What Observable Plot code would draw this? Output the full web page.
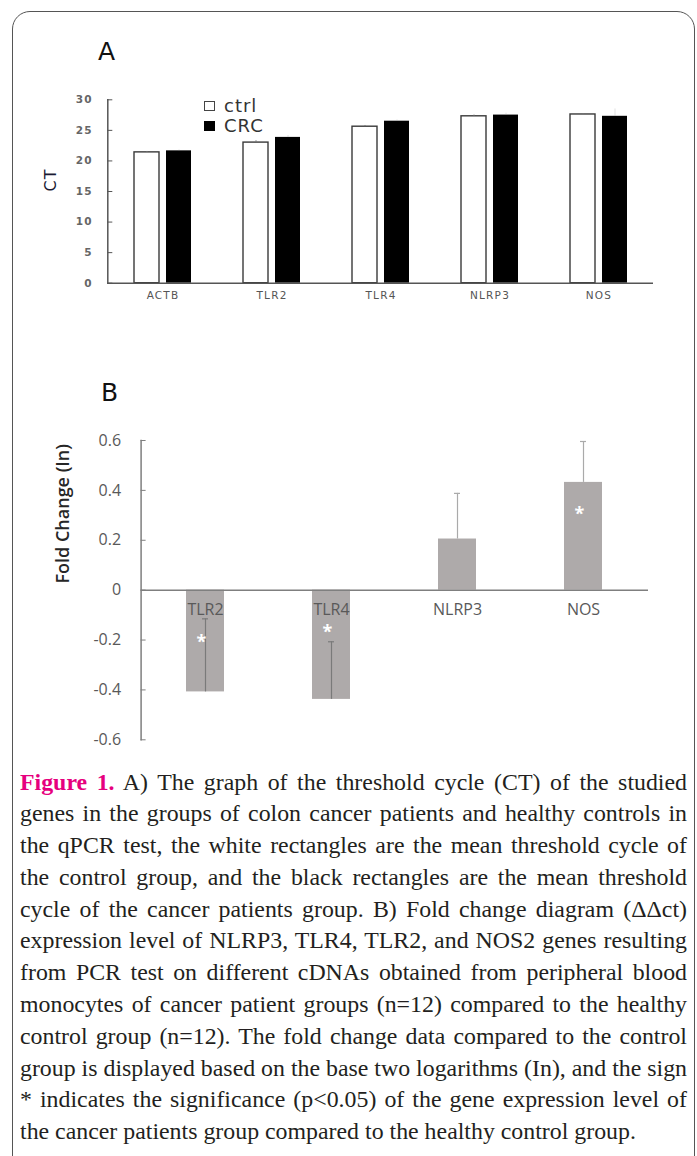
<!DOCTYPE html>
<html><head><meta charset="utf-8">
<script src="https://cdn.jsdelivr.net/npm/d3@7"></script>
<script src="https://cdn.jsdelivr.net/npm/@observablehq/plot@0.6"></script>
<style>
html,body{margin:0;padding:0;background:#fff;}
#page{position:relative;width:697px;height:1156px;overflow:hidden;background:#fff;}
#frame{position:absolute;left:12px;top:11px;width:683px;height:1200px;border:1.3px solid #555;border-radius:18px;box-sizing:border-box;}
.letter{position:absolute;font-family:"DejaVu Sans";font-size:25px;line-height:25px;color:#111;}
.chart{position:absolute;left:0;}
.leg-item{position:absolute;font-family:"DejaVu Sans";font-size:18px;line-height:20px;letter-spacing:1px;color:#333;white-space:nowrap;}
.leg-sw{position:absolute;width:11px;height:10px;box-sizing:border-box;}
#caption{position:absolute;left:20px;top:766.5px;transform-origin:0 0;font-family:"Liberation Serif";font-size:22.6px;line-height:31.8px;color:#231f20;}
.cline{white-space:nowrap;}
.cline.j{text-align:justify;text-align-last:justify;}
.fig{color:#e6007e;font-weight:bold;}
</style>
</head><body>
<div id="page">
  <div id="frame"></div>
  <div class="letter" style="left:98px;top:39px;">A</div>
  <div class="letter" style="left:101px;top:380px;">B</div>
  <div id="plotA" class="chart" style="top:0px;"></div>
  <div id="legend"></div>
  <div id="plotB" class="chart" style="top:340px;"></div>
  <div id="caption"></div>
</div>
<script>
// ---------- Panel A data ----------
const genesA = ["ACTB", "TLR2", "TLR4", "NLRP3", "NOS"];
const seriesA = ["ctrl", "CRC"];
const ctrlCT = [21.4, 23.0, 25.6, 27.3, 27.6];
const crcCT = [21.65, 23.85, 26.5, 27.5, 27.3];
const ctrlErr = [0.15, 0.3, 0.2, 0.2, 0.15];
const crcErr = [0.15, 0.3, 0.2, 0.3, 1.2];
const ctTicks = [0, 5, 10, 15, 20, 25, 30];

// ---------- Panel B data ----------
const genesB = ["TLR2", "TLR4", "NLRP3", "NOS"];
const foldChange = [-0.408, -0.438, 0.205, 0.432];
const foldErr = [0.293, 0.231, 0.183, 0.164];
const significant = [true, true, false, true];
const starY = [-0.195, -0.158, null, 0.318];
const fcTicks = [-0.6, -0.4, -0.2, 0, 0.2, 0.4, 0.6];

// ---------- Caption ----------
const figLabel = "Figure 1.";
const captionLines = [
  " A) The graph of the threshold cycle (CT) of the studied",
  "genes in the groups of colon cancer patients and healthy controls in",
  "the qPCR test, the white rectangles are the mean threshold cycle of",
  "the control group, and the black rectangles are the mean threshold",
  "cycle of the cancer patients group. B) Fold change diagram (\u0394\u0394ct)",
  "expression level of NLRP3, TLR4, TLR2, and NOS2 genes resulting",
  "from PCR test on different cDNAs obtained from peripheral blood",
  "monocytes of cancer patient groups (n=12) compared to the healthy",
  "control group (n=12). The fold change data compared to the control",
  "group is displayed based on the base two logarithms (In), and the sign",
  "* indicates the significance (p<0.05) of the gene expression level of",
  "the cancer patients group compared to the healthy control group."
];

const rowsA = genesA.map((g, i) => ({gene: g, ctrl: ctrlCT[i], crc: crcCT[i], ctrlErr: ctrlErr[i], crcErr: crcErr[i]}));
const rowsB = genesB.map((g, i) => ({gene: g, fc: foldChange[i], err: foldErr[i], sig: significant[i], star: starY[i]}));

const plotA = Plot.plot({
  width: 697, height: 320,
  marginTop: 99.3, marginBottom: 37.3, marginLeft: 107.3, marginRight: 44,
  style: {fontFamily: "DejaVu Sans", letterSpacing: "1.2px", background: "transparent", overflow: "visible"},
  x: {domain: genesA, paddingInner: 0.477, paddingOuter: 0.2385, label: null},
  y: {domain: [0, 30], label: null},
  marks: [
    Plot.barY(rowsA, {x: "gene", y: "ctrl", fill: "white", stroke: "#3a3a3a", strokeWidth: 1.4, insetRight: 32}),
    Plot.barY(rowsA, {x: "gene", y: "crc", fill: "black", insetLeft: 32}),
    Plot.ruleX(rowsA, {x: "gene", y1: "ctrl", y2: d => d.ctrl + d.ctrlErr, dx: -16, stroke: "#777"}),
    Plot.ruleX(rowsA, {x: "gene", y1: "crc", y2: d => d.crc + d.crcErr, dx: 16, stroke: "#aaa", strokeOpacity: 0.35}),
    Plot.ruleY([0], {stroke: "#555", strokeWidth: 1.5}),
    Plot.frame({anchor: "left", stroke: "#555", strokeWidth: 1.5}),
    Plot.axisY({ticks: ctTicks, tickSize: -5, tickFormat: () => "", stroke: "#555", label: null}),
    Plot.axisY({ticks: ctTicks, tickSize: 0, tickPadding: 15, fontSize: 10.5, fontWeight: "bold", fill: "#666", label: null}),
    Plot.axisX({tickSize: 0, tickPadding: 8, fontSize: 10.5, fill: "#555", label: null}),
    Plot.text(["CT"], {frameAnchor: "left", rotate: -90, dx: -57, text: d => d, fontSize: 16, fill: "#1a1a33"})
  ]
});
document.getElementById("plotA").appendChild(plotA);

// Legend (HTML)
const legend = document.getElementById("legend");
seriesA.forEach((s, i) => {
  const sw = document.createElement("div");
  sw.className = "leg-sw";
  sw.style.left = "204px";
  sw.style.top = (101 + i * 20) + "px";
  if (i === 0) { sw.style.background = "#fff"; sw.style.border = "1.4px solid #444"; }
  else { sw.style.background = "#000"; }
  legend.appendChild(sw);
  const t = document.createElement("div");
  t.className = "leg-item";
  t.style.left = "224px";
  t.style.top = (96 + i * 20) + "px";
  t.textContent = s;
  legend.appendChild(t);
});

const plotB = Plot.plot({
  width: 697, height: 420,
  marginTop: 100, marginBottom: 20.7, marginLeft: 140.6, marginRight: 49,
  style: {fontFamily: "Open Sans", background: "transparent", overflow: "visible"},
  x: {domain: genesB, paddingInner: 0.7, paddingOuter: 0.35, axis: null},
  y: {domain: [-0.6, 0.6], label: null},
  marks: [
    Plot.barY(rowsB, {x: "gene", y: "fc", fill: "#aeaaaa"}),
    Plot.text(rowsB, {x: "gene", y: () => 0, text: "gene", dy: 20, fontSize: 16, fill: "#595959"}),
    Plot.ruleX(rowsB.filter(d => d.fc < 0), {x: "gene", y1: "fc", y2: d => d.fc + d.err, stroke: "#7a7a7a", strokeWidth: 1.2}),
    Plot.ruleX(rowsB.filter(d => d.fc >= 0), {x: "gene", y1: "fc", y2: d => d.fc + d.err, stroke: "#aaaaaa", strokeWidth: 1.2}),
    Plot.tickY(rowsB.filter(d => d.fc < 0), {x: "gene", y: d => d.fc + d.err, insetLeft: 16, insetRight: 16, stroke: "#7a7a7a", strokeWidth: 1.2}),
    Plot.tickY(rowsB.filter(d => d.fc >= 0), {x: "gene", y: d => d.fc + d.err, insetLeft: 16, insetRight: 16, stroke: "#aaaaaa", strokeWidth: 1.2}),
    Plot.text(rowsB.filter(d => d.sig), {x: "gene", y: "star", text: () => "*", fill: "white", fontSize: 18, fontWeight: "bold", dx: -4, dy: 3}),
    Plot.ruleY([0], {stroke: "#7f7f7f", strokeWidth: 1.5}),
    Plot.frame({anchor: "left", stroke: "#7f7f7f", strokeWidth: 1.5}),
    Plot.axisY({ticks: fcTicks, tickSize: -5, tickFormat: () => "", stroke: "#7f7f7f", label: null}),
    Plot.axisY({ticks: fcTicks, tickFormat: d => d === 0 ? "0" : d.toFixed(1), tickSize: 0, tickPadding: 20, fontSize: 16, fill: "#595959", label: null}),
    Plot.text(["Fold Change (In)"], {frameAnchor: "left", rotate: -90, dx: -78, dy: -6.6, text: d => d, fontSize: 18, fontWeight: 600, fill: "#262626"})
  ]
});
document.getElementById("plotB").appendChild(plotB);

// Caption
const cap = document.getElementById("caption");
const spans = [];
captionLines.forEach((line, i) => {
  const div = document.createElement("div");
  div.className = "cline";
  const span = document.createElement("span");
  if (i === 0) {
    const b = document.createElement("span");
    b.className = "fig";
    b.textContent = figLabel;
    span.appendChild(b);
  }
  span.appendChild(document.createTextNode(line));
  div.appendChild(span);
  cap.appendChild(div);
  spans.push(span);
});
const widths = spans.map(s => s.getBoundingClientRect().width);
const targetW = 667;
let s = 620.6 / widths[widths.length - 1];
s = Math.min(s, targetW / Math.max(...widths));
cap.style.width = (targetW / s) + "px";
cap.style.transform = `scaleX(${s})`;
Array.from(cap.children).forEach((d, i) => { if (i < captionLines.length - 1) d.classList.add("j"); });
</script>
</body></html>
